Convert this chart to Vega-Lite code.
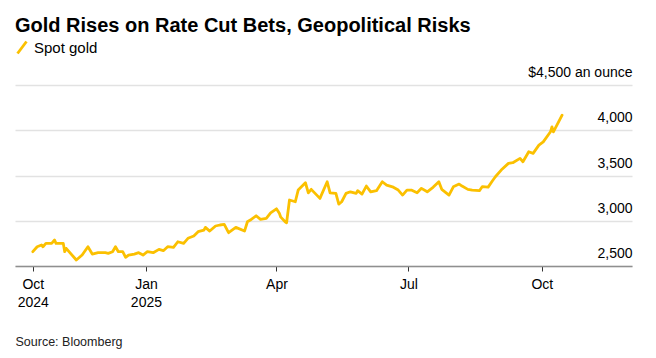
{
  "$schema": "https://vega.github.io/schema/vega-lite/v6.json",
  "width": 617,
  "height": 181,
  "autosize": {"type": "none"},
  "padding": {"left": 15, "top": 85, "right": 24, "bottom": 92},
  "background": "white",
  "config": {
    "font": "Liberation Sans",
    "view": {"stroke": null}
  },
  "title": {
    "text": "Gold Rises on Rate Cut Bets, Geopolitical Risks",
    "anchor": "start",
    "frame": "group",
    "fontSize": 20,
    "fontWeight": "bold",
    "color": "#000000",
    "offset": 4
  },
  "data": {
    "values": [
      {"date": "2024-10-15", "price": 2658, "series": "Spot gold"},
      {"date": "2024-10-18", "price": 2713, "series": "Spot gold"},
      {"date": "2024-10-21", "price": 2732, "series": "Spot gold"},
      {"date": "2024-10-22", "price": 2713, "series": "Spot gold"},
      {"date": "2024-10-24", "price": 2750, "series": "Spot gold"},
      {"date": "2024-10-28", "price": 2750, "series": "Spot gold"},
      {"date": "2024-10-30", "price": 2787, "series": "Spot gold"},
      {"date": "2024-10-31", "price": 2750, "series": "Spot gold"},
      {"date": "2024-11-05", "price": 2750, "series": "Spot gold"},
      {"date": "2024-11-06", "price": 2658, "series": "Spot gold"},
      {"date": "2024-11-07", "price": 2695, "series": "Spot gold"},
      {"date": "2024-11-14", "price": 2566, "series": "Spot gold"},
      {"date": "2024-11-18", "price": 2621, "series": "Spot gold"},
      {"date": "2024-11-22", "price": 2713, "series": "Spot gold"},
      {"date": "2024-11-25", "price": 2632, "series": "Spot gold"},
      {"date": "2024-11-29", "price": 2647, "series": "Spot gold"},
      {"date": "2024-12-04", "price": 2647, "series": "Spot gold"},
      {"date": "2024-12-06", "price": 2640, "series": "Spot gold"},
      {"date": "2024-12-09", "price": 2658, "series": "Spot gold"},
      {"date": "2024-12-11", "price": 2713, "series": "Spot gold"},
      {"date": "2024-12-13", "price": 2658, "series": "Spot gold"},
      {"date": "2024-12-16", "price": 2658, "series": "Spot gold"},
      {"date": "2024-12-18", "price": 2596, "series": "Spot gold"},
      {"date": "2024-12-20", "price": 2621, "series": "Spot gold"},
      {"date": "2024-12-24", "price": 2632, "series": "Spot gold"},
      {"date": "2024-12-27", "price": 2647, "series": "Spot gold"},
      {"date": "2024-12-30", "price": 2621, "series": "Spot gold"},
      {"date": "2025-01-02", "price": 2658, "series": "Spot gold"},
      {"date": "2025-01-06", "price": 2647, "series": "Spot gold"},
      {"date": "2025-01-10", "price": 2684, "series": "Spot gold"},
      {"date": "2025-01-13", "price": 2669, "series": "Spot gold"},
      {"date": "2025-01-16", "price": 2713, "series": "Spot gold"},
      {"date": "2025-01-20", "price": 2706, "series": "Spot gold"},
      {"date": "2025-01-23", "price": 2768, "series": "Spot gold"},
      {"date": "2025-01-27", "price": 2750, "series": "Spot gold"},
      {"date": "2025-01-30", "price": 2806, "series": "Spot gold"},
      {"date": "2025-02-03", "price": 2831, "series": "Spot gold"},
      {"date": "2025-02-06", "price": 2879, "series": "Spot gold"},
      {"date": "2025-02-10", "price": 2897, "series": "Spot gold"},
      {"date": "2025-02-11", "price": 2927, "series": "Spot gold"},
      {"date": "2025-02-14", "price": 2886, "series": "Spot gold"},
      {"date": "2025-02-18", "price": 2942, "series": "Spot gold"},
      {"date": "2025-02-21", "price": 2953, "series": "Spot gold"},
      {"date": "2025-02-24", "price": 2960, "series": "Spot gold"},
      {"date": "2025-02-27", "price": 2868, "series": "Spot gold"},
      {"date": "2025-03-04", "price": 2927, "series": "Spot gold"},
      {"date": "2025-03-10", "price": 2886, "series": "Spot gold"},
      {"date": "2025-03-12", "price": 2989, "series": "Spot gold"},
      {"date": "2025-03-14", "price": 3008, "series": "Spot gold"},
      {"date": "2025-03-18", "price": 3055, "series": "Spot gold"},
      {"date": "2025-03-21", "price": 3016, "series": "Spot gold"},
      {"date": "2025-03-25", "price": 3027, "series": "Spot gold"},
      {"date": "2025-03-28", "price": 3088, "series": "Spot gold"},
      {"date": "2025-04-01", "price": 3132, "series": "Spot gold"},
      {"date": "2025-04-03", "price": 3082, "series": "Spot gold"},
      {"date": "2025-04-04", "price": 3040, "series": "Spot gold"},
      {"date": "2025-04-07", "price": 2989, "series": "Spot gold"},
      {"date": "2025-04-08", "price": 2978, "series": "Spot gold"},
      {"date": "2025-04-10", "price": 3229, "series": "Spot gold"},
      {"date": "2025-04-14", "price": 3210, "series": "Spot gold"},
      {"date": "2025-04-16", "price": 3339, "series": "Spot gold"},
      {"date": "2025-04-21", "price": 3420, "series": "Spot gold"},
      {"date": "2025-04-23", "price": 3309, "series": "Spot gold"},
      {"date": "2025-04-25", "price": 3347, "series": "Spot gold"},
      {"date": "2025-05-01", "price": 3247, "series": "Spot gold"},
      {"date": "2025-05-06", "price": 3431, "series": "Spot gold"},
      {"date": "2025-05-08", "price": 3309, "series": "Spot gold"},
      {"date": "2025-05-12", "price": 3303, "series": "Spot gold"},
      {"date": "2025-05-14", "price": 3184, "series": "Spot gold"},
      {"date": "2025-05-16", "price": 3210, "series": "Spot gold"},
      {"date": "2025-05-19", "price": 3303, "series": "Spot gold"},
      {"date": "2025-05-22", "price": 3320, "series": "Spot gold"},
      {"date": "2025-05-26", "price": 3303, "series": "Spot gold"},
      {"date": "2025-05-27", "price": 3332, "series": "Spot gold"},
      {"date": "2025-05-30", "price": 3295, "series": "Spot gold"},
      {"date": "2025-06-02", "price": 3383, "series": "Spot gold"},
      {"date": "2025-06-05", "price": 3320, "series": "Spot gold"},
      {"date": "2025-06-09", "price": 3332, "series": "Spot gold"},
      {"date": "2025-06-13", "price": 3431, "series": "Spot gold"},
      {"date": "2025-06-16", "price": 3394, "series": "Spot gold"},
      {"date": "2025-06-20", "price": 3375, "series": "Spot gold"},
      {"date": "2025-06-24", "price": 3339, "series": "Spot gold"},
      {"date": "2025-06-27", "price": 3284, "series": "Spot gold"},
      {"date": "2025-06-30", "price": 3339, "series": "Spot gold"},
      {"date": "2025-07-03", "price": 3339, "series": "Spot gold"},
      {"date": "2025-07-07", "price": 3309, "series": "Spot gold"},
      {"date": "2025-07-10", "price": 3358, "series": "Spot gold"},
      {"date": "2025-07-14", "price": 3320, "series": "Spot gold"},
      {"date": "2025-07-18", "price": 3369, "series": "Spot gold"},
      {"date": "2025-07-22", "price": 3431, "series": "Spot gold"},
      {"date": "2025-07-24", "price": 3347, "series": "Spot gold"},
      {"date": "2025-07-29", "price": 3284, "series": "Spot gold"},
      {"date": "2025-08-01", "price": 3375, "series": "Spot gold"},
      {"date": "2025-08-05", "price": 3405, "series": "Spot gold"},
      {"date": "2025-08-07", "price": 3383, "series": "Spot gold"},
      {"date": "2025-08-11", "price": 3347, "series": "Spot gold"},
      {"date": "2025-08-14", "price": 3339, "series": "Spot gold"},
      {"date": "2025-08-19", "price": 3332, "series": "Spot gold"},
      {"date": "2025-08-21", "price": 3378, "series": "Spot gold"},
      {"date": "2025-08-25", "price": 3372, "series": "Spot gold"},
      {"date": "2025-08-28", "price": 3442, "series": "Spot gold"},
      {"date": "2025-08-30", "price": 3486, "series": "Spot gold"},
      {"date": "2025-09-03", "price": 3560, "series": "Spot gold"},
      {"date": "2025-09-08", "price": 3634, "series": "Spot gold"},
      {"date": "2025-09-11", "price": 3641, "series": "Spot gold"},
      {"date": "2025-09-16", "price": 3689, "series": "Spot gold"},
      {"date": "2025-09-18", "price": 3652, "series": "Spot gold"},
      {"date": "2025-09-22", "price": 3762, "series": "Spot gold"},
      {"date": "2025-09-25", "price": 3745, "series": "Spot gold"},
      {"date": "2025-09-29", "price": 3836, "series": "Spot gold"},
      {"date": "2025-10-02", "price": 3872, "series": "Spot gold"},
      {"date": "2025-10-07", "price": 3983, "series": "Spot gold"},
      {"date": "2025-10-08", "price": 4038, "series": "Spot gold"},
      {"date": "2025-10-09", "price": 3983, "series": "Spot gold"},
      {"date": "2025-10-15", "price": 4167, "series": "Spot gold"}
    ]
  },
  "mark": {"type": "line", "strokeWidth": 2.8, "strokeJoin": "round", "strokeCap": "round"},
  "encoding": {
    "x": {
      "field": "date",
      "type": "temporal",
      "scale": {
        "type": "utc",
        "domain": [
          {"year": 2024, "month": 10, "date": 2, "hours": 17, "utc": true},
          {"year": 2025, "month": 12, "date": 2, "hours": 5, "utc": true}
        ]
      },
      "axis": {
        "title": "Source: Bloomberg",
        "titleAnchor": "start",
        "titleAlign": "left",
        "titleBaseline": "alphabetic",
        "titleX": 0,
        "titleY": 79,
        "titleFontSize": 12.5,
        "titleFontWeight": "normal",
        "titleColor": "#222222",
        "values": [
          {"year": 2024, "month": 10, "date": 15, "utc": true},
          {"year": 2025, "month": 1, "date": 1, "utc": true},
          {"year": 2025, "month": 4, "date": 1, "utc": true},
          {"year": 2025, "month": 7, "date": 1, "utc": true},
          {"year": 2025, "month": 10, "date": 1, "utc": true}
        ],
        "labelExpr": "(utcyear(datum.value) == 2024 || utcmonth(datum.value) == 0) ? [utcFormat(datum.value, '%b'), utcFormat(datum.value, '%Y')] : utcFormat(datum.value, '%b')",
        "labelFontSize": 14,
        "labelColor": "#000000",
        "labelLineHeight": 18,
        "labelPadding": 6,
        "labelFlush": false,
        "labelOverlap": false,
        "grid": false,
        "domain": true,
        "domainColor": "#8f8f8f",
        "domainWidth": 1.6,
        "ticks": true,
        "tickColor": "#333333",
        "tickSize": 5,
        "tickWidth": 1
      }
    },
    "y": {
      "field": "price",
      "type": "quantitative",
      "scale": {"domain": [2500, 4500], "nice": false, "zero": false},
      "axis": {
        "orient": "right",
        "title": null,
        "values": [2500, 3000, 3500, 4000, 4500],
        "labelExpr": "datum.value == 4500 ? '$4,500 an ounce' : format(datum.value, ',')",
        "domain": false,
        "ticks": false,
        "grid": true,
        "gridColor": "#e2e2e2",
        "gridWidth": 1.5,
        "labelAlign": "right",
        "labelBaseline": "alphabetic",
        "labelPadding": 0,
        "labelOffset": -8.5,
        "labelFontSize": 14,
        "labelColor": "#000000",
        "labelFlush": false,
        "labelOverlap": false,
        "labelBound": false
      }
    },
    "color": {
      "field": "series",
      "type": "nominal",
      "scale": {"domain": ["Spot gold"], "range": ["#FBC000"]},
      "legend": {
        "title": null,
        "orient": "none",
        "legendX": -0.5,
        "legendY": -45,
        "padding": 0,
        "symbolType": "M-0.75,1L0.75,-1",
        "symbolSize": 144,
        "symbolStrokeWidth": 2.8,
        "labelFontSize": 15,
        "labelColor": "#000000",
        "labelOffset": 4.5
      }
    }
  }
}
